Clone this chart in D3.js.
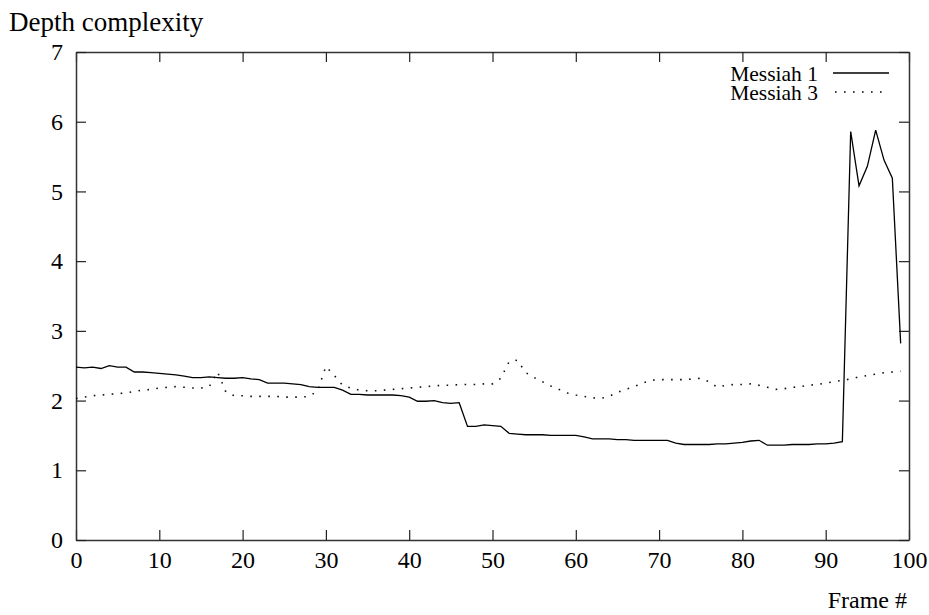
<!DOCTYPE html>
<html>
<head>
<meta charset="utf-8">
<script src="https://cdn.jsdelivr.net/npm/d3@7"></script>
<style>
  body { margin: 0; background: #fff; }
  svg text { font-family: "Liberation Serif", "Times New Roman", serif; fill: #000; }
</style>
</head>
<body>
<svg id="chart" width="929" height="615"></svg>
<script>
// frame numbers 0..99
const frames = d3.range(0, 100);

const messiah1 = [
  2.48, 2.47, 2.48, 2.46, 2.50, 2.48, 2.48, 2.41, 2.41, 2.40,
  2.39, 2.38, 2.37, 2.35, 2.33, 2.33, 2.34, 2.33, 2.32, 2.32,
  2.33, 2.31, 2.30, 2.25, 2.25, 2.25, 2.24, 2.23, 2.20, 2.19,
  2.19, 2.19, 2.15, 2.09, 2.09, 2.08, 2.08, 2.08, 2.08, 2.07,
  2.05, 1.99, 1.99, 2.00, 1.97, 1.96, 1.97, 1.63, 1.63, 1.65,
  1.64, 1.63, 1.53, 1.52, 1.51, 1.51, 1.51, 1.50, 1.50, 1.50,
  1.50, 1.48, 1.45, 1.45, 1.45, 1.44, 1.44, 1.43, 1.43, 1.43,
  1.43, 1.43, 1.39, 1.37, 1.37, 1.37, 1.37, 1.38, 1.38, 1.39,
  1.40, 1.42, 1.43, 1.36, 1.36, 1.36, 1.37, 1.37, 1.37, 1.38,
  1.38, 1.39, 1.41, 5.86, 5.08, 5.36, 5.88, 5.45, 5.19, 2.82
];

const messiah3 = [
  2.03, 2.05, 2.07, 2.08, 2.09, 2.10, 2.11, 2.13, 2.15, 2.16,
  2.18, 2.19, 2.20, 2.19, 2.18, 2.18, 2.20, 2.41, 2.12, 2.07,
  2.07, 2.06, 2.06, 2.06, 2.06, 2.05, 2.05, 2.05, 2.06, 2.14,
  2.49, 2.36, 2.22, 2.18, 2.15, 2.14, 2.14, 2.15, 2.16, 2.17,
  2.18, 2.19, 2.20, 2.21, 2.22, 2.22, 2.23, 2.23, 2.23, 2.24,
  2.24, 2.32, 2.56, 2.58, 2.40, 2.33, 2.27, 2.21, 2.16, 2.11,
  2.08, 2.06, 2.04, 2.03, 2.06, 2.12, 2.16, 2.20, 2.25, 2.29,
  2.30, 2.30, 2.30, 2.30, 2.31, 2.32, 2.27, 2.19, 2.22, 2.23,
  2.23, 2.24, 2.22, 2.19, 2.16, 2.17, 2.19, 2.20, 2.22, 2.23,
  2.25, 2.27, 2.29, 2.31, 2.34, 2.36, 2.38, 2.40, 2.41, 2.42
];

const xTicks = d3.range(0, 101, 10);
const yTicks = d3.range(0, 8, 1);
const seriesNames = ["Messiah 1", "Messiah 3"];

const svg = d3.select("#chart");
const margin = { top: 52, bottom: 75, left: 76, right: 20 };
const width = 929, height = 615;

const xScale = d3.scaleLinear().domain([0, 100]).range([margin.left, width - margin.right]);
const yScale = d3.scaleLinear().domain([0, 7]).range([height - margin.bottom, margin.top]);

const fontSize = 24;

// axes, ticks pointing inward on all four sides
const gx = svg.append("g")
  .attr("transform", "translate(0," + yScale(0) + ")")
  .call(d3.axisBottom(xScale).tickValues(xTicks).tickFormat(d3.format("d"))
    .tickSizeInner(-10).tickSizeOuter(0).tickPadding(11));

const gxTop = svg.append("g")
  .attr("transform", "translate(0," + yScale(7) + ")")
  .call(d3.axisTop(xScale).tickValues(xTicks).tickSizeInner(-10).tickSizeOuter(0).tickFormat(""));

const gy = svg.append("g")
  .attr("transform", "translate(" + xScale(0) + ",0)")
  .call(d3.axisLeft(yScale).tickValues(yTicks).tickFormat(d3.format("d"))
    .tickSizeInner(-10).tickSizeOuter(0).tickPadding(13));

const gyRight = svg.append("g")
  .attr("transform", "translate(" + xScale(100) + ",0)")
  .call(d3.axisRight(yScale).tickValues(yTicks).tickSizeInner(-10).tickSizeOuter(0).tickFormat(""));

[gx, gxTop, gy, gyRight].forEach(g => {
  g.select(".domain").attr("stroke", "#333").attr("stroke-width", 1.5);
  g.selectAll(".tick line").attr("stroke", "#222").attr("stroke-width", 1.2);
  g.selectAll(".tick text").attr("font-size", fontSize).attr("font-family", "Liberation Serif");
});

// lines
const line = d3.line()
  .x((d, i) => xScale(frames[i]))
  .y(d => yScale(d));

svg.append("path")
  .datum(messiah1)
  .attr("fill", "none")
  .attr("stroke", "#000")
  .attr("stroke-width", 1.3)
  .attr("d", line);

svg.append("path")
  .datum(messiah3)
  .attr("fill", "none")
  .attr("stroke", "#111")
  .attr("stroke-width", 1.6)
  .attr("stroke-dasharray", "1.6,7.4")
  .attr("d", line);

// legend
const legend = svg.append("g");
seriesNames.forEach((name, i) => {
  const y = 73 + i * 19;
  legend.append("text")
    .attr("x", 818)
    .attr("y", y + 8)
    .attr("text-anchor", "end")
    .attr("font-size", 21.5)
    .text(name);
  legend.append("line")
    .attr("x1", i === 0 ? 833 : 835)
    .attr("x2", i === 0 ? 889 : 884)
    .attr("y1", y)
    .attr("y2", y)
    .attr("stroke", "#000")
    .attr("stroke-width", i === 0 ? 1.3 : 1.6)
    .attr("stroke-dasharray", i === 0 ? null : "1.6,7.4");
});

// axis labels
svg.append("text")
  .attr("x", 9)
  .attr("y", 31)
  .attr("font-size", 27)
  .text("Depth complexity");

svg.append("text")
  .attr("x", 907)
  .attr("y", 608)
  .attr("text-anchor", "end")
  .attr("font-size", fontSize)
  .text("Frame #");
</script>
</body>
</html>
